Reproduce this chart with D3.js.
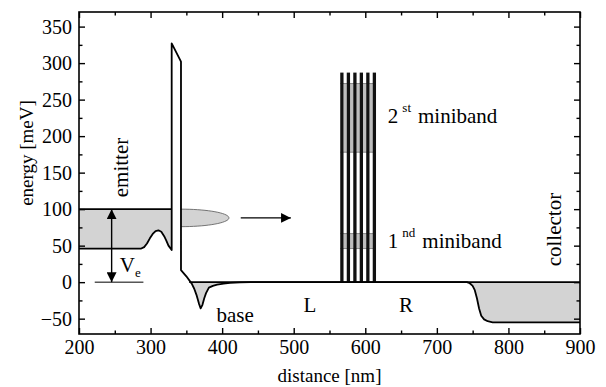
<!DOCTYPE html>
<html>
<head>
<meta charset="utf-8">
<script src="https://cdn.jsdelivr.net/npm/d3@7"></script>
<style>
body{margin:0;background:#fff}
svg text{font-family:"Liberation Serif","Times New Roman",serif;fill:#000}
</style>
</head>
<body>
<svg id="chart" width="606" height="387" font-family="Liberation Serif"></svg>
<script>
// conduction band profile: distance [nm] / energy [meV]
const bandDist   = [200, 287, 291, 295, 299, 303, 307, 311, 315, 319, 322, 325, 329.5,
                    329.5, 342.5, 342.5, 350, 357.5, 361, 364, 367.5, 370, 372.5, 375, 377.5, 381.5, 387, 393, 402, 411, 425, 440,
                    742, 746, 750, 753, 756, 759, 762, 766, 771, 778, 900];
const bandEnergy = [46, 46, 48, 53, 60, 66, 70, 71, 69, 63, 57, 50, 44,
                    327, 302, 16.5, 8, -2, -9, -17, -29, -36, -31, -22, -15, -7.5, -5, -3.3, -2, -1, -0.4, 0,
                    0, -1.5, -5, -11, -22, -36, -46, -51, -53.5, -55, -55];

const emitterFermi = 100;      // meV
const baseFermi = 0;           // meV

// superlattice barriers (left edge, nm) and height
const slBarriers = [565, 574.1, 583.2, 592.2, 601.3, 610.4];
const slBarrierWidth = 4.6;
const slHeight = 287;
const minibandLow  = [46, 178];
const minibandHigh = [66.5, 272];

// wave packet leaving the barrier
const packet = {x: 342.5, e: 88, rx: 67, re: 12};
const arrowDist = [426, 496];
const veDist = 245.6;
const veLine = [222, 290];

const xMajor = [200, 300, 400, 500, 600, 700, 800, 900];
const xMinor = [250, 350, 450, 550, 650, 750, 850];
const yMajor = [-50, 0, 50, 100, 150, 200, 250, 300, 350];
const yMinor = [-25, 25, 75, 125, 175, 225, 275, 325];

const W = 606, H = 387;
const m = {left: 79, right: 26, top: 12, bottom: 53};
const svg = d3.select('#chart');

const x = d3.scaleLinear([200, 900], [m.left, W - m.right]);
const y = d3.scaleLinear([-71, 370], [H - m.bottom, m.top]);

const defs = svg.append('defs');
defs.append('marker').attr('id', 'head')
    .attr('viewBox', '0 0 10 10').attr('refX', 10).attr('refY', 5)
    .attr('markerWidth', 7).attr('markerHeight', 7).attr('markerUnits', 'strokeWidth')
    .attr('orient', 'auto-start-reverse')
    .append('path').attr('d', 'M0,0 L10,5 L0,10 z').attr('fill', '#000');

const pts = bandDist.map((d, i) => [d, bandEnergy[i]]);
const grey = '#d3d3d3';

// emitter electrons (between band edge and Fermi level)
const emitterPts = pts.slice(0, 13);
svg.append('path').datum(emitterPts)
    .attr('d', d3.area().x(d => x(d[0])).y0(y(emitterFermi)).y1(d => y(d[1])))
    .attr('fill', grey);

// accumulation in base notch
const notchPts = pts.filter(d => d[0] >= 357.5 && d[0] <= 440);
svg.append('path').datum(notchPts)
    .attr('d', d3.area().x(d => x(d[0])).y0(y(baseFermi)).y1(d => y(d[1])))
    .attr('fill', grey);

// collector
const collPts = pts.filter(d => d[0] >= 742);
svg.append('path').datum(collPts)
    .attr('d', d3.area().x(d => x(d[0])).y0(y(baseFermi)).y1(d => y(d[1])))
    .attr('fill', grey);

// wave packet (half ellipse)
const ell = d3.range(0, 181, 5).map(a => {
    const t = (a - 90) * Math.PI / 180;
    return [packet.x + packet.rx * Math.cos(t), packet.e + packet.re * Math.sin(t)];
});
svg.append('path').datum(ell)
    .attr('d', d3.line().x(d => x(d[0])).y(d => y(d[1])))
    .attr('fill', grey).attr('stroke', '#555').attr('stroke-width', 0.8);

// minibands in the wells
const wells = slBarriers.slice(0, -1).map((b, i) => [b + slBarrierWidth, slBarriers[i + 1]]);
minibandLow.forEach((lo, k) => {
    svg.append('g').selectAll('rect').data(wells).join('rect')
        .attr('x', d => x(d[0])).attr('width', d => x(d[1]) - x(d[0]))
        .attr('y', y(minibandHigh[k])).attr('height', y(lo) - y(minibandHigh[k]))
        .attr('fill', '#bdbdbd');
    [lo, minibandHigh[k]].forEach(e => {
        svg.append('line')
            .attr('x1', x(slBarriers[0])).attr('x2', x(slBarriers[slBarriers.length - 1] + slBarrierWidth))
            .attr('y1', y(e)).attr('y2', y(e))
            .attr('stroke', '#888').attr('stroke-width', 1);
    });
});

// superlattice barriers
svg.append('g').selectAll('rect').data(slBarriers).join('rect')
    .attr('x', d => x(d)).attr('width', x(slBarrierWidth) - x(0))
    .attr('y', y(slHeight)).attr('height', y(0) - y(slHeight))
    .attr('fill', '#111');

// Fermi levels
svg.append('line').attr('x1', x(200)).attr('x2', x(329.5))
    .attr('y1', y(emitterFermi)).attr('y2', y(emitterFermi))
    .attr('stroke', '#000').attr('stroke-width', 1.8);
svg.append('line').attr('x1', x(354)).attr('x2', x(900))
    .attr('y1', y(baseFermi)).attr('y2', y(baseFermi))
    .attr('stroke', '#000').attr('stroke-width', 1.8);

// band edge
svg.append('path').datum(pts)
    .attr('d', d3.line().x(d => x(d[0])).y(d => y(d[1])))
    .attr('fill', 'none').attr('stroke', '#000').attr('stroke-width', 1.8)
    .attr('stroke-linejoin', 'round');

// arrows
svg.append('line').attr('x1', x(arrowDist[0])).attr('x2', x(arrowDist[1]))
    .attr('y1', y(packet.e)).attr('y2', y(packet.e))
    .attr('stroke', '#000').attr('stroke-width', 1.4).attr('marker-end', 'url(#head)');
svg.append('line').attr('x1', x(veDist)).attr('x2', x(veDist))
    .attr('y1', y(emitterFermi)).attr('y2', y(0))
    .attr('stroke', '#000').attr('stroke-width', 1.4)
    .attr('marker-start', 'url(#head)').attr('marker-end', 'url(#head)');
svg.append('line').attr('x1', x(veLine[0])).attr('x2', x(veLine[1]))
    .attr('y1', y(0)).attr('y2', y(0))
    .attr('stroke', '#000').attr('stroke-width', 1);

// axes
const innerW = W - m.left - m.right, innerH = H - m.top - m.bottom;
const serif = '"Liberation Serif", "Times New Roman", serif';
const axB = svg.append('g').attr('transform', `translate(0,${H - m.bottom})`)
    .call(d3.axisBottom(x).tickValues(xMajor).tickSizeInner(-6).tickSizeOuter(0).tickPadding(6).tickFormat(d3.format('d')));
axB.append('g').call(d3.axisBottom(x).tickValues(xMinor).tickSize(-3.5).tickFormat(''));
const axL = svg.append('g').attr('transform', `translate(${m.left},0)`)
    .call(d3.axisLeft(y).tickValues(yMajor).tickSizeInner(-6).tickSizeOuter(0).tickPadding(7).tickFormat(d3.format('d')));
axL.append('g').call(d3.axisLeft(y).tickValues(yMinor).tickSize(-3.5).tickFormat(''));
const axT = svg.append('g').attr('transform', `translate(0,${m.top})`)
    .call(d3.axisTop(x).tickValues(xMajor).tickSizeInner(-6).tickSizeOuter(0).tickFormat(''));
axT.append('g').call(d3.axisTop(x).tickValues(xMinor).tickSize(-3.5).tickFormat(''));
const axR = svg.append('g').attr('transform', `translate(${W - m.right},0)`)
    .call(d3.axisRight(y).tickValues(yMajor).tickSizeInner(-6).tickSizeOuter(0).tickFormat(''));
axR.append('g').call(d3.axisRight(y).tickValues(yMinor).tickSize(-3.5).tickFormat(''));

svg.selectAll('.domain').remove();
[axB, axL, axT, axR].forEach(a => a.attr('font-family', serif).attr('font-size', 20));
svg.selectAll('.tick line').attr('stroke', '#000').attr('stroke-width', 1.4);
svg.selectAll('.tick text').attr('fill', '#000');

svg.append('rect').attr('x', m.left).attr('y', m.top).attr('width', innerW).attr('height', innerH)
    .attr('fill', 'none').attr('stroke', '#000').attr('stroke-width', 1.6);

svg.append('text').attr('x', m.left + innerW / 2).attr('y', 382)
    .attr('text-anchor', 'middle').style('font-size', '19px').text('distance [nm]');
svg.append('text').attr('transform', 'translate(33,153) rotate(-90)')
    .attr('text-anchor', 'middle').style('font-size', '19px').text('energy [meV]');

// annotations
const afs = '21px';
function label(nm, e, str, rot) {
    const t = svg.append('text').style('font-size', afs);
    if (rot) t.attr('transform', `translate(${x(nm)},${y(e)}) rotate(-90)`).attr('text-anchor', 'middle');
    else t.attr('x', x(nm)).attr('y', y(e));
    t.text(str);
    return t;
}
label(268.5, 157, 'emitter', true);
label(874, 72, 'collector', true);
label(392, -54, 'base');
label(513.5, -41, 'L');
label(647, -41, 'R');

const ve = svg.append('text').attr('x', x(257)).attr('y', y(14.5)).style('font-size', afs);
ve.append('tspan').text('V');
ve.append('tspan').attr('dy', 5).style('font-size', '13px').text('e');

function miniband(e, num, sup) {
    const t = svg.append('text').attr('x', x(631.5)).attr('y', y(e)).style('font-size', afs);
    t.append('tspan').text(num);
    t.append('tspan').attr('dx', 4).attr('dy', -11).style('font-size', '13px').text(sup);
    t.append('tspan').attr('dx', 7).attr('dy', 11).text('miniband');
}
miniband(218, '2', 'st');
miniband(47, '1', 'nd');
</script>
</body>
</html>
